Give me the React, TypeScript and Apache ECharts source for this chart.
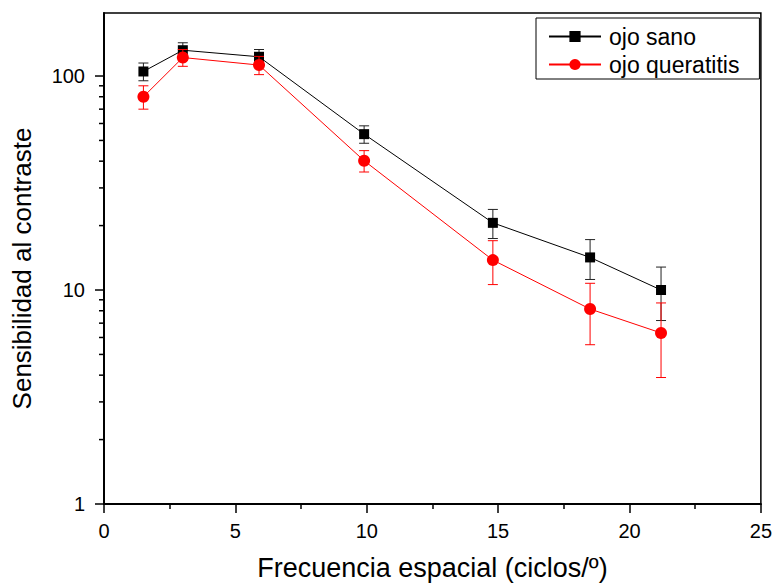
import React, { useEffect, useRef } from "react";
import * as echarts from "echarts";

const freq = [1.5, 3, 5.9, 9.9, 14.8, 18.5, 21.2];
const sano = [105, 132, 123, 53.5, 20.6, 14.2, 10.0];
const sanoErr = [10, 11, 10, 5, 3.2, 3, 2.8];
const queratitis = [80, 122, 112.5, 40.2, 13.8, 8.15, 6.3];
const queratitisErr = [10, 11, 11, 4.6, 3.2, 2.6, 2.4];
const yMajorTicks = [1, 10, 100];
const yMinorTicks = [2, 3, 4, 5, 6, 7, 8, 9, 20, 30, 40, 50, 60, 70, 80, 90];
const xTitle = "Frecuencia espacial (ciclos/º)";
const yTitle = "Sensibilidad al contraste";
const seriesNames = ["ojo sano", "ojo queratitis"];

const FONT = "'Liberation Sans', Arial, sans-serif";

function errData(vals: number[], errs: number[]) {
  return freq.map((x, i) => [x, vals[i] - errs[i], vals[i] + errs[i]]);
}

function errRender(color: string) {
  return (params: any, api: any) => {
    const x = api.value(0);
    const lo = api.coord([x, api.value(1)]);
    const hi = api.coord([x, api.value(2)]);
    const hw = 5;
    const style = { stroke: color, lineWidth: 1 };
    return {
      type: "group",
      children: [
        { type: "line", shape: { x1: lo[0], y1: lo[1], x2: hi[0], y2: hi[1] }, style },
        { type: "line", shape: { x1: lo[0] - hw, y1: lo[1], x2: lo[0] + hw, y2: lo[1] }, style },
        { type: "line", shape: { x1: hi[0] - hw, y1: hi[1], x2: hi[0] + hw, y2: hi[1] }, style },
      ],
    };
  };
}

export default function App() {
  const ref = useRef<HTMLDivElement>(null);
  useEffect(() => {
    document.body.style.margin = "0";
    const chart = echarts.init(ref.current!, null, { renderer: "svg" });
    const tickData = [
      ...yMajorTicks.map((v) => [0, v, 9]),
      ...yMinorTicks.map((v) => [0, v, 5]),
    ];
    chart.setOption({
      animation: false,
      backgroundColor: "#fff",
      textStyle: { fontFamily: FONT },
      grid: {
        left: 104,
        right: 13,
        top: 13,
        bottom: 82,
        show: true,
        borderColor: "#000",
        borderWidth: 1.5,
      },
      legend: {
        data: seriesNames,
        orient: "vertical",
        left: 536,
        top: 18,
        borderColor: "#000",
        borderWidth: 1,
        padding: [7, 20, 3, 12],
        itemGap: 5,
        itemWidth: 52,
        itemHeight: 14,
        textStyle: { fontSize: 23, color: "#000", fontFamily: FONT, padding: [0, 0, 0, 3] },
      },
      xAxis: {
        type: "value",
        min: 0,
        max: 25,
        interval: 5,
        name: xTitle,
        nameLocation: "middle",
        nameGap: 50,
        nameTextStyle: { fontSize: 27, color: "#000", fontFamily: FONT },
        axisLine: { lineStyle: { color: "#000", width: 2 } },
        axisTick: { length: 9, lineStyle: { color: "#000", width: 1.5 } },
        minorTick: { show: true, splitNumber: 2, length: 5, lineStyle: { color: "#000", width: 1.5 } },
        axisLabel: { fontSize: 20, color: "#000", margin: 17, fontFamily: FONT },
        splitLine: { show: false },
      },
      yAxis: {
        type: "log",
        logBase: 10,
        min: 1,
        max: 197,
        name: yTitle,
        nameLocation: "middle",
        nameGap: 69,
        nameTextStyle: { fontSize: 26, color: "#000", fontFamily: FONT, padding: [0, 20, 0, 0] },
        axisLine: { lineStyle: { color: "#000", width: 2 } },
        axisTick: { show: false },
        axisLabel: {
          fontSize: 20,
          color: "#000",
          margin: 19,
          fontFamily: FONT,
          formatter: (v: number) => {
            const l = Math.log10(v);
            return Math.abs(l - Math.round(l)) < 1e-6 ? String(Math.round(Math.pow(10, Math.round(l)))) : "";
          },
        },
        splitLine: { show: false },
      },
      series: [
        {
          type: "custom",
          name: "yticks",
          silent: true,
          clip: false,
          data: tickData,
          encode: { x: 0, y: 1 },
          z: 1,
          renderItem: (params: any, api: any) => {
            const p = api.coord([api.value(0), api.value(1)]);
            const len = api.value(2);
            return {
              type: "line",
              shape: { x1: p[0] - len, y1: p[1], x2: p[0], y2: p[1] },
              style: { stroke: "#000", lineWidth: 1.5 },
            };
          },
        },
        {
          type: "custom",
          name: "sanoErr",
          silent: true,
          data: errData(sano, sanoErr),
          encode: { x: 0, y: [1, 2] },
          z: 2,
          renderItem: errRender("#222"),
        },
        {
          type: "line",
          name: seriesNames[0],
          data: freq.map((x, i) => [x, sano[i]]),
          symbol: "rect",
          symbolSize: 10,
          itemStyle: { color: "#000" },
          lineStyle: { color: "#000", width: 1 },
          z: 3,
          silent: true,
        },
        {
          type: "custom",
          name: "querErr",
          silent: true,
          data: errData(queratitis, queratitisErr),
          encode: { x: 0, y: [1, 2] },
          z: 4,
          renderItem: errRender("#ff0000"),
        },
        {
          type: "line",
          name: seriesNames[1],
          data: freq.map((x, i) => [x, queratitis[i]]),
          symbol: "circle",
          symbolSize: 12,
          itemStyle: { color: "#ff0000" },
          lineStyle: { color: "#ff0000", width: 1 },
          z: 5,
          silent: true,
        },
      ],
    });
    return () => chart.dispose();
  }, []);
  return (
    <div
      ref={ref}
      style={{ position: "fixed", left: 0, top: 0, width: 775, height: 586, background: "#fff" }}
    />
  );
}
